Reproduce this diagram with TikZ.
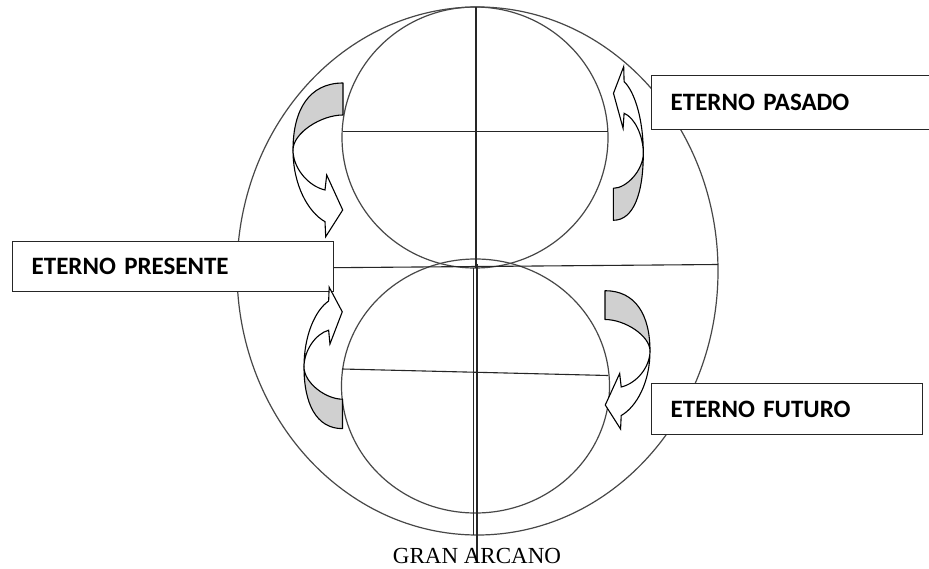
\documentclass[tikz,border=0pt]{standalone}
\usepackage{fontspec}
\setmainfont{Liberation Serif}
\newfontfamily\lblfont{Carlito}
\definecolor{arrgray}{RGB}{208,208,208}
\tikzset{
  circ/.style={draw=black!72, line width=1.2pt},
  axisline/.style={draw=black!85, line width=1.1pt},
  lblbox/.style={draw=black!85, line width=1.4pt, fill=white, anchor=north west,
    inner xsep=19pt, inner ysep=0pt, align=left, text=black,
    font=\lblfont\bfseries\fontsize{25}{30}\selectfont},
  arrback/.style={draw=black, line width=1.1pt, fill=arrgray, line join=round},
  arrfront/.style={draw=black, line width=1.1pt, fill=white, line join=miter},
}
\newcommand\CurvedArrowShape{%
  \path[arrback] (50,-67) .. controls (16,-67) and (0,-40) .. (0,0)
     .. controls (0,-17) and (28,-35) .. (50,-35) -- cycle;
  \path[arrfront] (0,0) .. controls (0,18) and (15,36) .. (32,40)
     -- (33.7,25) -- (49.7,60) -- (32.7,86.7) -- (32,71.7)
     .. controls (15,62) and (0,35) .. (0,0) -- cycle;
}
\begin{document}
\begin{tikzpicture}[x=1pt,y=-1pt]
\useasboundingbox (0,0) rectangle (929,569);
\fill[white] (0,0) rectangle (929,569);
% outer ellipse and the two circles
\coordinate (big) at (477.5,271);
\coordinate (topc) at (475,137.5);
\coordinate (botc) at (475.5,386);
\draw[circ] (big) ellipse [x radius=240.5, y radius=264];
\draw[circ] (topc) ellipse [x radius=133, y radius=130.5];
\draw[circ] (botc) ellipse [x radius=134, y radius=127];
% axes
\coordinate (t1) at (343,131.7); \coordinate (t2) at (608,131.7);
\coordinate (m1) at (237,268.5); \coordinate (m2) at (718,264.5);
\coordinate (b1) at (342,369);   \coordinate (b2) at (608,375.5);
\coordinate (v1) at (476,7);     \coordinate (v2) at (476,268);
\coordinate (v3) at (477,264);   \coordinate (v4) at (477,563);
\coordinate (v5) at (473.8,268); \coordinate (v6) at (473.8,535);
\draw[axisline] (t1) -- (t2);
\draw[axisline] (m1) -- (m2);
\draw[axisline] (b1) -- (b2);
\draw[axisline] (v1) -- (v2);
\draw[axisline] (v3) -- (v4);
\draw[axisline] (v5) -- (v6);
% label boxes
\node[lblbox, text width=283pt, minimum height=50pt] (pres) at (12,241) {ETERNO PRESENTE};
\node[lblbox, text width=246pt, minimum height=54pt] (pas) at (651,75) {ETERNO PASADO};
\node[lblbox, text width=233pt, minimum height=51pt] (fut) at (651,383) {ETERNO FUTURO};
% curved arrows
\begin{scope}[shift={(293,150)}] \CurvedArrowShape \end{scope}
\begin{scope}[shift={(643.3,153.3)}, xscale=-0.6, yscale=-1] \CurvedArrowShape \end{scope}
\begin{scope}[shift={(304,367)}, xscale=0.77, yscale=-0.92] \CurvedArrowShape \end{scope}
\begin{scope}[shift={(650,351)}, xscale=-0.9, yscale=0.9] \CurvedArrowShape \end{scope}
% bottom caption
\node[anchor=base, inner sep=0pt, font=\fontsize{23}{28}\selectfont] (gran) at (477,563) {GRAN ARCANO};
\end{tikzpicture}
\end{document}
